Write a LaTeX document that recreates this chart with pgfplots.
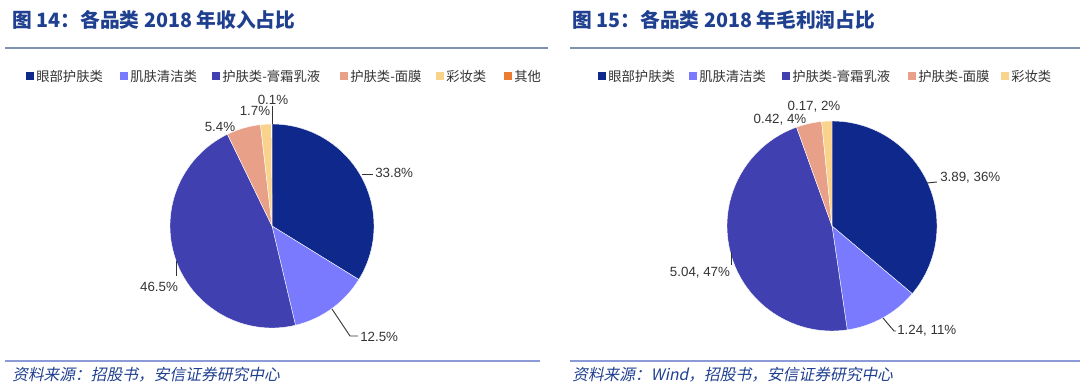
\documentclass[border=0pt]{standalone}
\usepackage{pgfplots}
\pgfplotsset{compat=1.18}
\usepackage{fontspec}
\setmainfont{Liberation Sans}
\newfontfamily\cjk{Noto Sans CJK SC}
\newfontfamily\cjkit{Noto Sans CJK SC}[FakeSlant=0.2]
\definecolor{c1}{HTML}{0F288C}
\definecolor{c2}{HTML}{7A7AFF}
\definecolor{c3}{HTML}{4040B0}
\definecolor{c4}{HTML}{E8A088}
\definecolor{c5}{HTML}{F9D38C}
\definecolor{c6}{HTML}{EB7D32}
\definecolor{ttl}{HTML}{1F3F8F}
\definecolor{rule}{HTML}{8091B0}
\definecolor{brule}{HTML}{8C9BD8}
\definecolor{lbl}{HTML}{333333}
\newcommand\pieslice[4]{%
  \fill[#1, draw=white, line width=0.3pt] (axis cs:0,0) -- (axis cs:{cos(#2)},{sin(#2)}) arc[start angle=#2, end angle=#3, radius=#4] -- cycle;}
\begin{document}
\begin{tikzpicture}[x=0.75pt,y=0.75pt]
\path[use as bounding box] (0,0) rectangle (1080,391);
% ---------- data: left (revenue share, %) ----------
\pgfmathsetmacro\La{90}
\pgfmathsetmacro\Lb{\La-3.6*33.8}
\pgfmathsetmacro\Lc{\Lb-3.6*12.5}
\pgfmathsetmacro\Ld{\Lc-3.6*46.5}
\pgfmathsetmacro\Le{\Ld-3.6*5.4}
\pgfmathsetmacro\Lf{\Le-3.6*1.7}
\pgfmathsetmacro\Lg{\Lf-3.6*0.1}
% ---------- data: right (gross profit) ----------
\pgfmathsetmacro\Rt{3.89+1.24+5.04+0.42+0.17}
\pgfmathsetmacro\Ra{90}
\pgfmathsetmacro\Rb{\Ra-360*3.89/\Rt}
\pgfmathsetmacro\Rc{\Rb-360*1.24/\Rt}
\pgfmathsetmacro\Rd{\Rc-360*5.04/\Rt}
\pgfmathsetmacro\Re{\Rd-360*0.42/\Rt}
\pgfmathsetmacro\Rf{\Re-360*0.17/\Rt}
% ---------- left pie ----------
\begin{axis}[at={(204pt,123.75pt)}, anchor=center, width=153pt, height=153pt, scale only axis,
  hide axis, xmin=-1, xmax=1, ymin=-1, ymax=1, clip=false]
\pieslice{c1}{\La}{\Lb}{76.5pt}
\pieslice{c2}{\Lb}{\Lc}{76.5pt}
\pieslice{c3}{\Lc}{\Ld}{76.5pt}
\pieslice{c4}{\Ld}{\Le}{76.5pt}
\pieslice{c5}{\Le}{\Lf}{76.5pt}
\pieslice{c6}{\Lf}{\Lg}{76.5pt}
\end{axis}
% ---------- right pie ----------
\begin{axis}[at={(624pt,123.75pt)}, anchor=center, width=157.5pt, height=157.5pt, scale only axis,
  hide axis, xmin=-1, xmax=1, ymin=-1, ymax=1, clip=false]
\pieslice{c1}{\Ra}{\Rb}{78.75pt}
\pieslice{c2}{\Rb}{\Rc}{78.75pt}
\pieslice{c3}{\Rc}{\Rd}{78.75pt}
\pieslice{c4}{\Rd}{\Re}{78.75pt}
\pieslice{c5}{\Re}{\Rf}{78.75pt}
\end{axis}
\begin{scope}[shift={(0,391)}, yscale=-1]
% ---------- titles and rules ----------
\node[anchor=west, inner sep=0, text=ttl, font=\cjk\bfseries\fontsize{14.8}{16}\selectfont] at (12,20) {图 14：各品类 2018 年收入占比};
\node[anchor=west, inner sep=0, text=ttl, font=\cjk\bfseries\fontsize{14.8}{16}\selectfont] at (572,20) {图 15：各品类 2018 年毛利润占比};
\draw[rule, line width=1.1pt] (5,48) -- (548,48);
\draw[rule, line width=1.1pt] (570,48) -- (1080,48);
\draw[brule, line width=0.8pt] (5,361) -- (540,361);
\draw[brule, line width=0.8pt] (570,361) -- (1080,361);
\node[anchor=west, inner sep=0, text=ttl, font=\cjkit\fontsize{11.8}{13}\selectfont] at (12,375) {资料来源：招股书，安信证券研究中心};
\node[anchor=west, inner sep=0, text=ttl, font=\cjkit\fontsize{11.8}{13}\selectfont] at (572,375) {资料来源：Wind，招股书，安信证券研究中心};
% ---------- legends ----------
\foreach \x/\c/\t in {30/c1/眼部护肤类, 124/c2/肌肤清洁类, 216/c3/护肤类-膏霜乳液, 344/c4/护肤类-面膜, 440/c5/彩妆类, 508/c6/其他}{
  \fill[\c] (\x-3.7,76-3.7) rectangle (\x+3.7,76+3.7);
  \node[anchor=west, inner sep=0, text=lbl, font=\cjk\fontsize{10}{12}\selectfont] at (\x+6,76) {\t};
}
\foreach \x/\c/\t in {602/c1/眼部护肤类, 693/c2/肌肤清洁类, 786/c3/护肤类-膏霜乳液, 912/c4/护肤类-面膜, 1005/c5/彩妆类}{
  \fill[\c] (\x-3.7,76-3.7) rectangle (\x+3.7,76+3.7);
  \node[anchor=west, inner sep=0, text=lbl, font=\cjk\fontsize{10}{12}\selectfont] at (\x+6,76) {\t};
}
% ---------- labels left ----------
\begin{scope}[every node/.style={inner sep=0, text=lbl, font=\fontsize{10}{12}\selectfont}]
\draw[lbl, line width=0.7pt] (272,106) -- (272,124);
\node at (273,100) {0.1\%};
\node at (255,111) {1.7\%};
\node at (220,127) {5.4\%};
\draw[lbl, line width=0.7pt] (362,174) -- (373,174);
\node[anchor=west] at (375,173) {33.8\%};
\draw[lbl, line width=0.7pt] (332,309) -- (350,336) -- (358,336);
\node[anchor=west] at (360,337) {12.5\%};
\draw[lbl, line width=0.7pt] (176,261) -- (176,276);
\node at (159,287) {46.5\%};
% ---------- labels right ----------
\draw[lbl, line width=0.7pt] (927,183) -- (937,182);
\node[anchor=west] at (940,178) {3.89, 36\%};
\draw[lbl, line width=0.7pt] (883,318) -- (894,331) -- (896,331);
\node[anchor=west] at (897,331) {1.24, 11\%};
\draw[lbl, line width=0.7pt] (731,252) -- (731,265);
\node at (700,273) {5.04, 47\%};
\node at (780,120) {0.42, 4\%};
\node at (814,107) {0.17, 2\%};
\end{scope}
\end{scope}
\end{tikzpicture}
\end{document}
